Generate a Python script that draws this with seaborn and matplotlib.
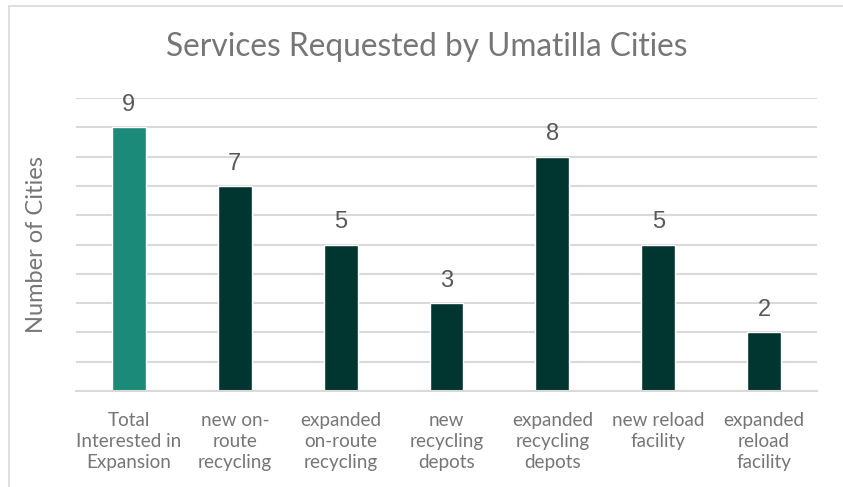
import matplotlib
matplotlib.use("Agg")
import matplotlib.pyplot as plt
import seaborn as sns
import pandas as pd
from matplotlib.patches import Rectangle

categories = [
    "Total\nInterested in\nExpansion",
    "new on-\nroute\nrecycling",
    "expanded\non-route\nrecycling",
    "new\nrecycling\ndepots",
    "expanded\nrecycling\ndepots",
    "new reload\nfacility",
    "expanded\nreload\nfacility",
]
values = [9, 7, 5, 3, 8, 5, 2]
bar_colors = ["#1b8a78", "#003530", "#003530", "#003530", "#003530", "#003530", "#003530"]

TEXT = "#767676"
GRID = "#d9d9d9"

sns.set_theme(style="white")
plt.rcParams["font.family"] = ["Lato", "DejaVu Sans"]

df = pd.DataFrame({"service": categories, "cities": values})

fig = plt.figure(figsize=(8.43, 4.87), dpi=100)
ax = fig.add_axes([76 / 843, 1 - 391 / 487, 741 / 843, 293 / 487])

sns.barplot(data=df, x="service", y="cities", hue="service",
            palette=bar_colors, legend=False, width=0.32,
            saturation=1, ax=ax)

ax.set_ylim(0, 10)
ax.set_xlim(-0.5, len(categories) - 0.5)
ax.set_yticks(range(0, 11))
ax.yaxis.grid(True, color=GRID, linewidth=1.5)
ax.set_axisbelow(True)
ax.tick_params(axis="y", left=False, labelleft=False)
ax.tick_params(axis="x", bottom=False, labelsize=13.6, labelcolor=TEXT, pad=9)
for lbl in ax.get_xticklabels():
    lbl.set_linespacing(1.3)
for side in ["top", "right", "left"]:
    ax.spines[side].set_visible(False)
ax.spines["bottom"].set_color(GRID)
ax.spines["bottom"].set_linewidth(1.5)

ax.set_xlabel("")
ax.set_ylabel("Number of Cities", fontsize=17, color=TEXT, labelpad=21)

for container in ax.containers:
    ax.bar_label(container, fmt="%d", padding=8, fontsize=17, color="#595959",
                 family=["Liberation Sans", "DejaVu Sans"])

fig.text(427 / 843, 1 - 47 / 487, "Services Requested by Umatilla Cities",
         ha="center", va="center", fontsize=22.8, color=TEXT)

# light frame around the chart area
fig.patches.append(Rectangle((9 / 843, -0.1), 1.2, 1 - 5.5 / 487 + 0.1,
                             transform=fig.transFigure, fill=False,
                             edgecolor="#d9d9d9", linewidth=1.2))

fig.savefig("out.png", dpi=100)
